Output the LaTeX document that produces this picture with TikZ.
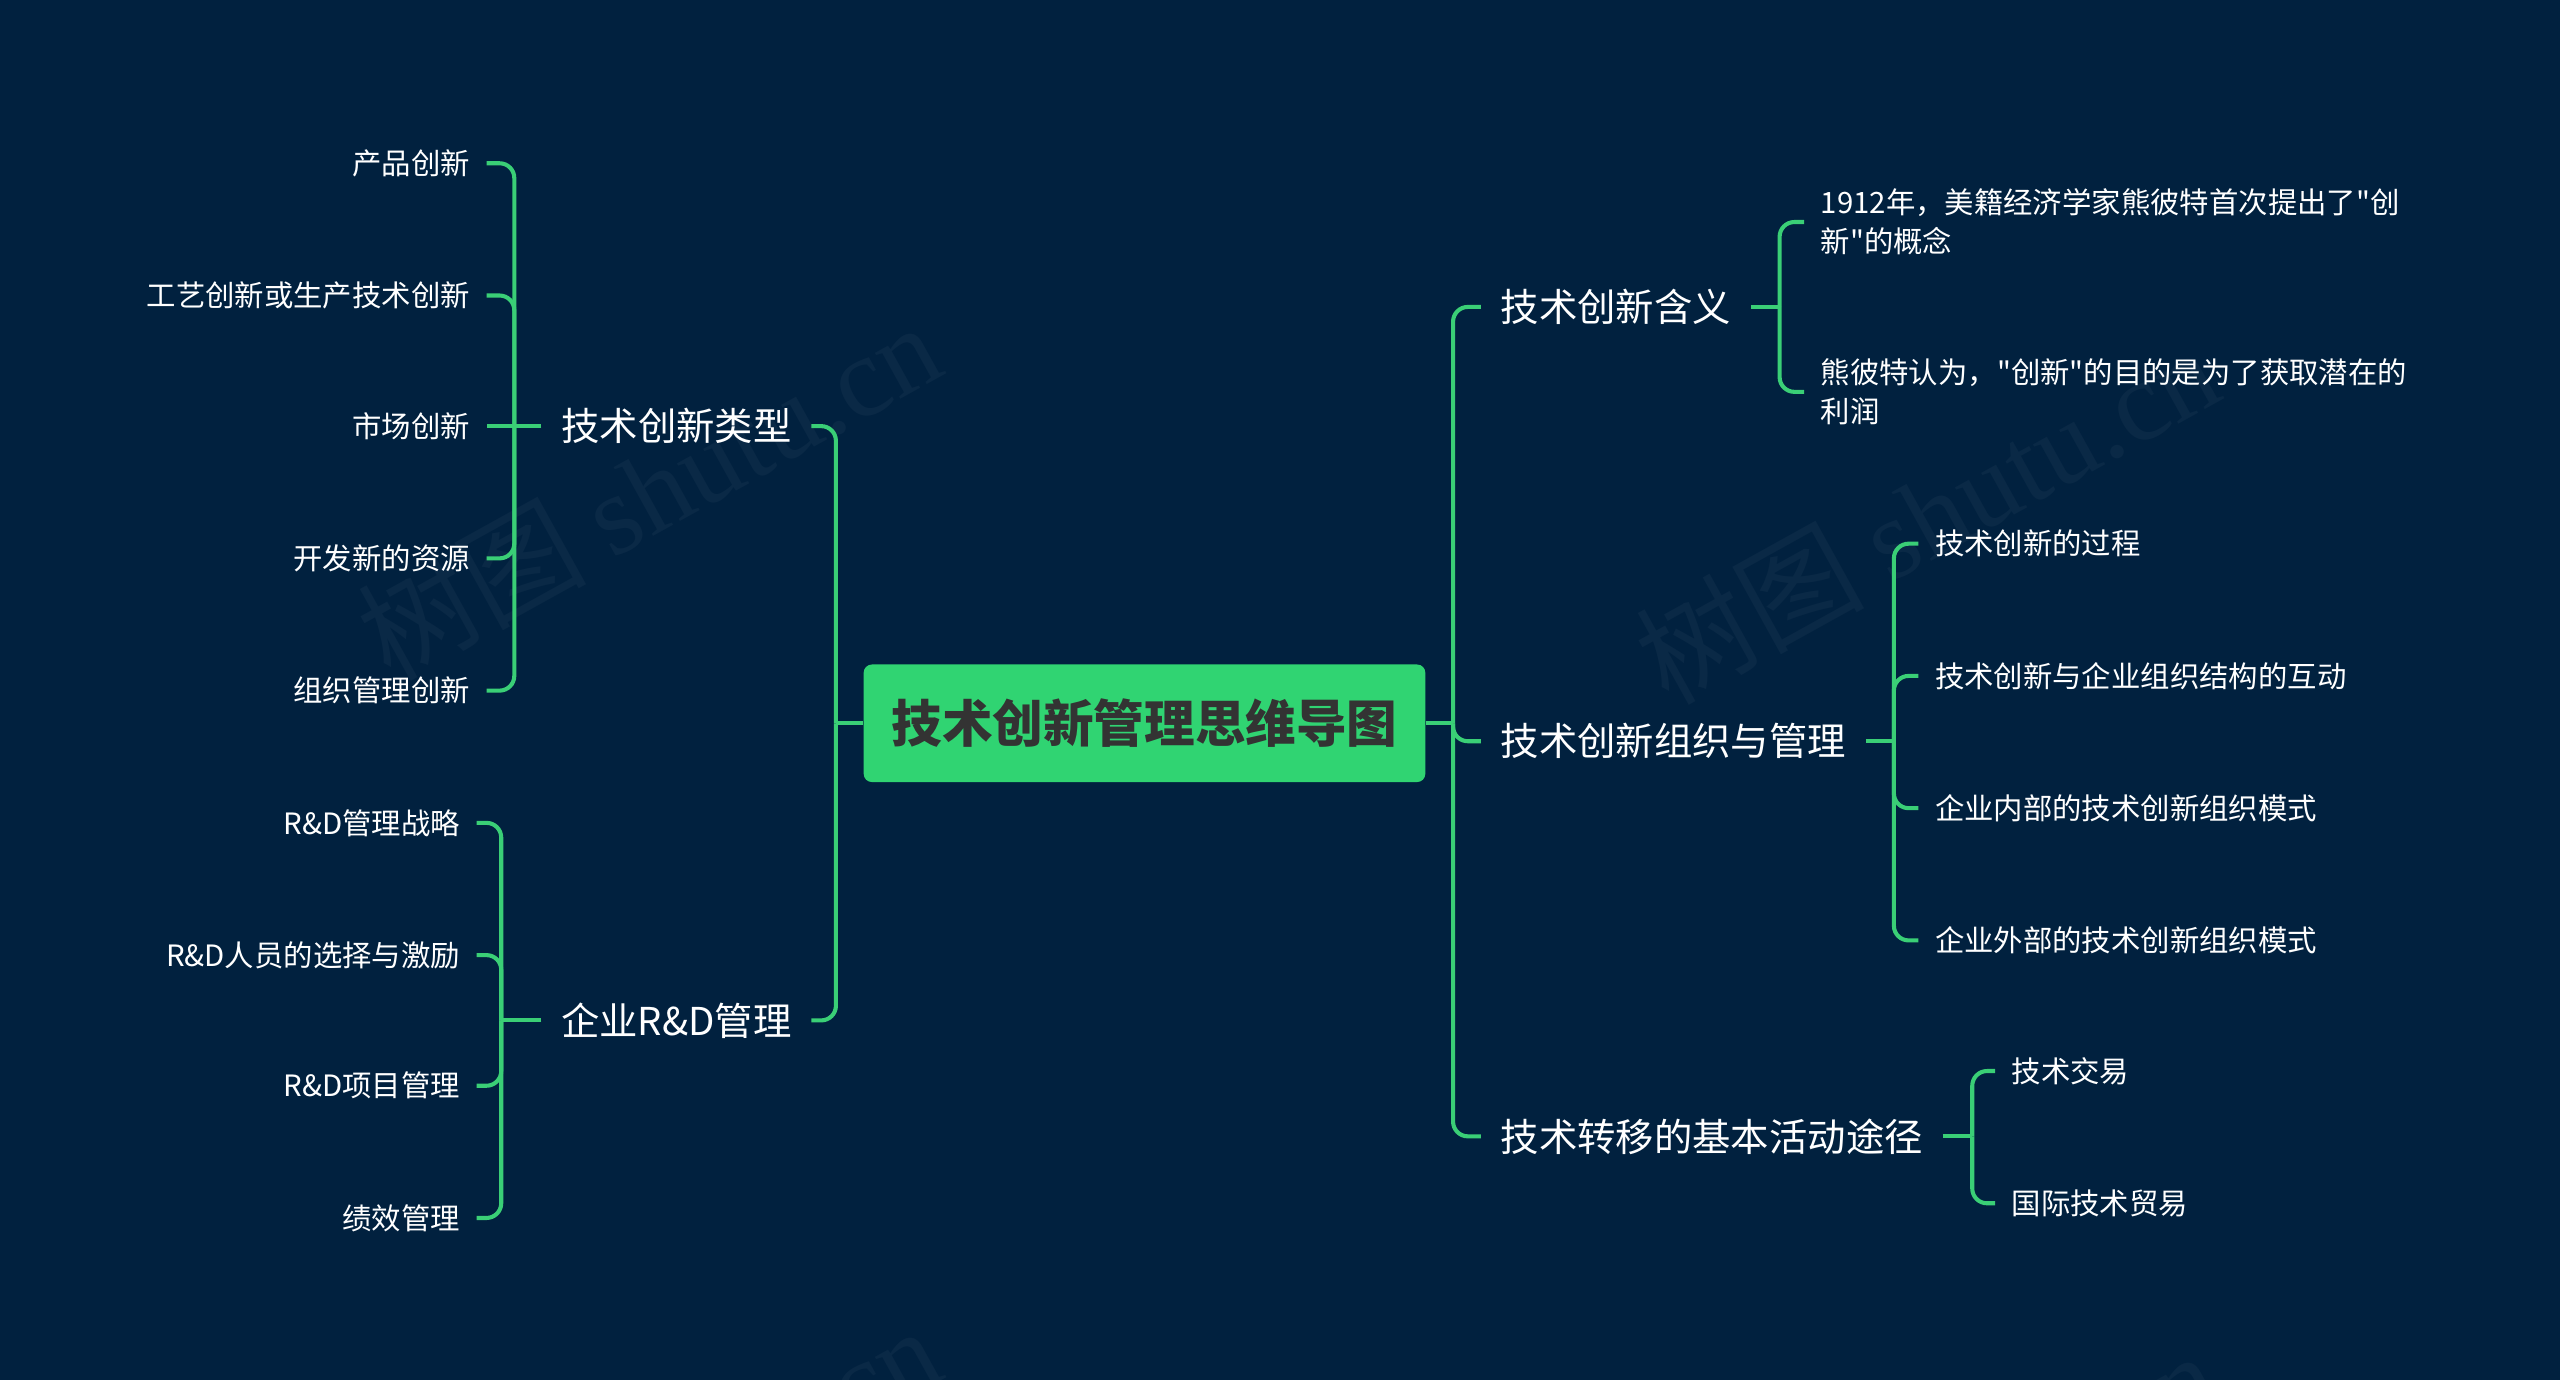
\documentclass[tikz,border=0pt]{standalone}
\usepackage{fontspec}
\setmainfont{Noto Sans CJK SC}[Ligatures=TeXOff]
\newfontfamily\wmserif{Liberation Serif}
\definecolor{bg}{HTML}{01213F}
\definecolor{branch}{HTML}{3ACF76}
\definecolor{rootfill}{HTML}{30D472}
\definecolor{roottext}{HTML}{333333}
\definecolor{wmark}{HTML}{0A2946}

\begin{document}
\begin{tikzpicture}[x=1pt, y=-1pt,
  every node/.style={text=white, inner ysep=2pt},
  root/.style={fill=rootfill, text=roottext, rounded corners=5pt,
    minimum width=344pt, minimum height=72pt,
    font=\fontsize{31}{36}\selectfont\bfseries},
  topic/.style={inner xsep=12pt, font=\fontsize{23.5}{28}\selectfont},
  leaf/.style={inner xsep=10pt, align=left, font=\fontsize{18}{24}\selectfont},
  link/.style={draw=branch, line width=2.5pt, rounded corners=9pt},
  wm/.style={text=wmark, rotate=29, font=\fontsize{70}{70}\selectfont}]

  % background, y downward
  \fill[bg] (0,0) rectangle (1568,845);

  % watermark
  \begin{scope}
    \clip (0,0) rectangle (1568,845);
    \foreach \dy in {0,615} {
      \node[wm] at (397,300+\dy) {树图 {\wmserif shutu.cn}};
      \node[wm] at (1180,315+\dy) {树图 {\wmserif shutu.cn}};
    }
  \end{scope}

  % root
  \node[root] (root) at (701,443) {技术创新管理思维导图};

  % topics
  \node[topic, anchor=east] (kind) at (497,261) {技术创新类型};
  \node[topic, anchor=east] (rd) at (497,625) {企业R\&D管理};
  \node[topic, anchor=west] (mean) at (907,188) {技术创新含义};
  \node[topic, anchor=west] (org) at (907,454) {技术创新组织与管理};
  \node[topic, anchor=west] (move) at (907,696) {技术转移的基本活动途径};

  \coordinate (jL) at (512,443);
  \coordinate (jR) at (890,443);
  \draw[link] (root.west) -- (jL);
  \draw[link] (root.east) -- (jR);
  \foreach \t in {kind,rd} \draw[link] (jL) |- (\t.east);
  \foreach \t in {mean,org,move} \draw[link] (jR) |- (\t.west);

  % leaves of kind
  \foreach \y/\n/\txt in {100/k1/产品创新, 181/k2/工艺创新或生产技术创新,
      261/k3/市场创新, 342/k4/开发新的资源, 423/k5/组织管理创新}
    \node[leaf, anchor=east] (\n) at (298,\y) {\txt};
  \coordinate (jK) at (315,261);
  \draw[link] (kind.west) -- (jK);
  \draw[link] (jK) -- (k3.east);
  \foreach \n in {k1,k2,k4,k5} \draw[link] (jK) |- (\n.east);

  % leaves of rd
  \foreach \y/\n/\txt in {504/r1/R\&D管理战略, 585/r2/R\&D人员的选择与激励,
      665/r3/R\&D项目管理, 746/r4/绩效管理}
    \node[leaf, anchor=east] (\n) at (292,\y) {\txt};
  \coordinate (jD) at (307,625);
  \draw[link] (rd.west) -- (jD);
  \foreach \n in {r1,r2,r3,r4} \draw[link] (jD) |- (\n.east);

  % leaves of mean
  \node[leaf, anchor=west] (m1) at (1105,136) {1912年，美籍经济学家熊彼特首次提出了"创\\新"的概念};
  \node[leaf, anchor=west] (m2) at (1105,240) {熊彼特认为，"创新"的目的是为了获取潜在的\\利润};
  \coordinate (jM) at (1090,188);
  \draw[link] (mean.east) -- (jM);
  \foreach \n in {m1,m2} \draw[link] (jM) |- (\n.west);

  % leaves of org
  \foreach \y/\n/\txt in {333/o1/技术创新的过程, 414/o2/技术创新与企业组织结构的互动,
      495/o3/企业内部的技术创新组织模式, 576/o4/企业外部的技术创新组织模式}
    \node[leaf, anchor=west] (\n) at (1175,\y) {\txt};
  \coordinate (jO) at (1160,454);
  \draw[link] (org.east) -- (jO);
  \foreach \n in {o1,o2,o3,o4} \draw[link] (jO) |- (\n.west);

  % leaves of move
  \node[leaf, anchor=west] (t1) at (1222,656) {技术交易};
  \node[leaf, anchor=west] (t2) at (1222,737) {国际技术贸易};
  \coordinate (jT) at (1208,696);
  \draw[link] (move.east) -- (jT);
  \foreach \n in {t1,t2} \draw[link] (jT) |- (\n.west);
\end{tikzpicture}
\end{document}
